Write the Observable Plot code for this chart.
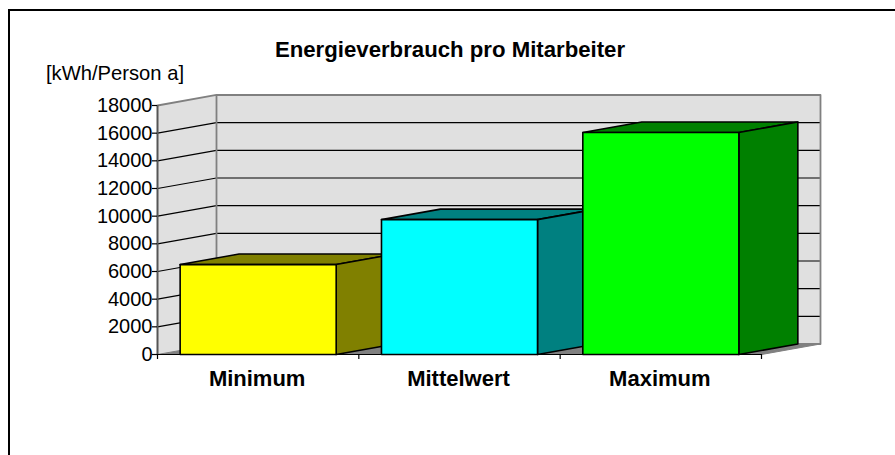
<!DOCTYPE html>
<html lang="de">
<head>
<meta charset="utf-8">
<script src="https://cdn.jsdelivr.net/npm/d3@7"></script>
<script src="https://cdn.jsdelivr.net/npm/@observablehq/plot@0.6"></script>
<style>
  html, body { margin: 0; padding: 0; background: #fff; overflow: hidden; }
  body { width: 895px; height: 455px; position: relative; font-family: "Liberation Sans", Arial, sans-serif; color: #000; }
  #frame { position: absolute; left: 8px; top: 9px; right: 0; bottom: 0; border-top: 2px solid #000; border-left: 2px solid #000; pointer-events: none; }
  #head { position: relative; height: 90px; }
  #title { position: absolute; left: 0; width: 900px; top: 38px; text-align: center; font-weight: bold; font-size: 22.2px; line-height: 24px; }
  #unit { position: absolute; left: 46px; top: 61px; font-size: 20.2px; line-height: 24px; }
  #chart svg { display: block; }
</style>
</head>
<body>
<div id="frame"></div>
<div id="head">
  <div id="title">Energieverbrauch pro Mitarbeiter</div>
  <div id="unit">[kWh/Person a]</div>
</div>
<div id="chart"></div>
<script>
const categories = ["Minimum", "Mittelwert", "Maximum"];
const values = [6500, 9750, 16050];
const frontColors = ["#ffff00", "#00ffff", "#00ff00"];
const darkColors = ["#808000", "#008080", "#008000"];
const yTicks = [0, 2000, 4000, 6000, 8000, 10000, 12000, 14000, 16000, 18000];

// oblique projection: depth is expressed in data units of both scales
const depthX = 0.293, depthY = 760;
const inset = 0.1125;
const P = (x, v, d) => ({x: x + d * depthX, y: v + d * depthY});

const wall = [P(0, 0, 1), P(3, 0, 1), P(3, 18000, 1), P(0, 18000, 1), P(0, 0, 1)];
const sideWall = [P(0, 0, 0), P(0, 0, 1), P(0, 18000, 1), P(0, 18000, 0), P(0, 0, 0)];
const floor = [P(0, 0, 0), P(3, 0, 0), P(3, 0, 1), P(0, 0, 1), P(0, 0, 0)];
const grid = yTicks.filter(v => v > 0 && v < 18000).map(v => [P(0, v, 0), P(0, v, 1), P(3, v, 1)]);
const topEdge = [P(0, 18000, 0), P(0, 18000, 1), P(3, 18000, 1), P(3, 0, 1), P(0, 0, 1), P(0, 18000, 1)];

const poly = (pts, fill, strokeColor = "#000", sw = 1.6) =>
  Plot.line(pts, {x: "x", y: "y", fill, stroke: strokeColor, strokeWidth: sw, curve: "linear"});

const barMarks = categories.flatMap((c, i) => {
  const x1 = i + inset, x2 = i + 1 - inset, v = values[i];
  return [
    poly([P(x1, v, 0), P(x2, v, 0), P(x2, v, 1), P(x1, v, 1), P(x1, v, 0)], darkColors[i]),
    poly([P(x2, 0, 0), P(x2, 0, 1), P(x2, v, 1), P(x2, v, 0), P(x2, 0, 0)], darkColors[i]),
    poly([P(x1, 0, 0), P(x2, 0, 0), P(x2, v, 0), P(x1, v, 0), P(x1, 0, 0)], frontColors[i])
  ];
});

const plot = Plot.plot({
  width: 895,
  height: 365,
  marginLeft: 157,
  marginRight: 134,
  marginTop: 15,
  marginBottom: 101,
  style: {fontFamily: '"Liberation Sans", Arial, sans-serif', background: "transparent", color: "#000", overflow: "visible"},
  x: {type: "linear", domain: [0, 3]},
  y: {type: "linear", domain: [0, 18000]},
  marks: [
    poly(sideWall, "#e0e0e0", "none", 0),
    poly(wall, "#e0e0e0", "none", 0),
    poly(floor, "#808080", "#808080", 1),
    ...grid.map(g => Plot.line(g, {x: "x", y: "y", stroke: "#000", strokeWidth: 1.2})),
    Plot.line(topEdge, {x: "x", y: "y", stroke: "#808080", strokeWidth: 1.8}),
    ...barMarks,
    Plot.ruleY([0], {x1: 0, x2: 3, stroke: "#000", strokeWidth: 1.2}),
    Plot.ruleX([0], {y1: 0, y2: 18000, stroke: "#555", strokeWidth: 2}),
    Plot.axisY({ticks: yTicks, tickSize: 5, tickPadding: 0, tickFormat: d => String(d), fontSize: 20, label: null, stroke: "#000", strokeWidth: 1.2}),
    Plot.axisX({ticks: [0, 1, 2, 3], tickSize: 5, tickFormat: () => "", label: null, stroke: "#000", strokeWidth: 1.2}),
    Plot.axisX({ticks: [0.5, 1.5, 2.5], tickSize: 0, tickPadding: 16, dx: -1, tickFormat: d => categories[d - 0.5], fontSize: 22, fontWeight: "bold", label: null})
  ]
});
document.getElementById("chart").appendChild(plot);
</script>
</body>
</html>
